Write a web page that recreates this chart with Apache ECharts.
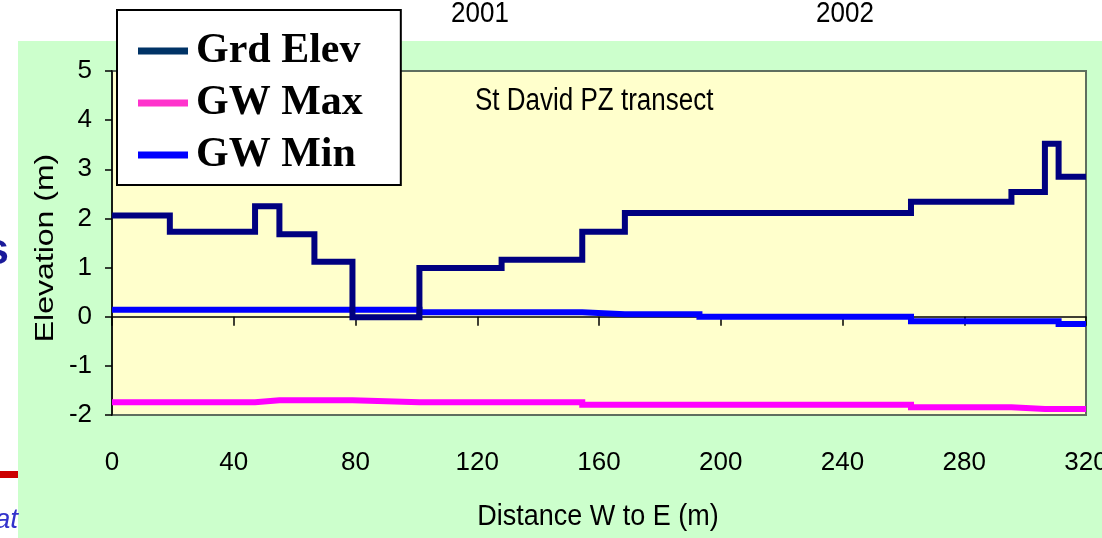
<!DOCTYPE html>
<html>
<head>
<meta charset="utf-8">
<script src="https://cdn.jsdelivr.net/npm/echarts@6/dist/echarts.min.js"></script>
<style>
html,body{margin:0;padding:0;background:#ffffff;}
#chart{width:1102px;height:538px;}
</style>
</head>
<body>
<div id="chart"></div>
<script>
// Data
const distance = [0, 19, 47, 55, 66.5, 79, 101, 128, 154.5, 168.5, 193, 262.5, 295.5, 306.5, 311, 320];
const grdElev  = [2.06, 1.73, 2.25, 1.68, 1.12, -0.01, 0.99, 1.16, 1.73, 2.11, 2.11, 2.34, 2.54, 3.52, 2.85, 2.85];
const gwMax    = [-1.74, -1.74, -1.70, -1.70, -1.70, -1.74, -1.74, -1.74, -1.79, -1.79, -1.79, -1.84, -1.88, -1.88, -1.88, -1.88];
const gwMin    = [0.14, 0.14, 0.14, 0.14, 0.14, 0.14, 0.09, 0.09, 0.05, 0.05, 0.0, -0.09, -0.09, -0.09, -0.15, -0.15];
const seriesNames = ['Grd Elev', 'GW Max', 'GW Min'];
const xTicks = {min: 0, max: 320, interval: 40};
const yTicks = {min: -2, max: 5, interval: 1};
const yearLabels = ['2001', '2002'];
const chartTitle = 'St David PZ transect';
const xName = 'Distance W to E (m)';
const yName = 'Elevation (m)';

const sans = "'Liberation Sans', Arial, sans-serif";

// Each value holds from its distance until the next one (step profile)
function stepPairs(xs, ys){
  const out = [];
  for (let i = 0; i < xs.length; i++) {
    if (i > 0) out.push([xs[i], ys[i - 1]]);
    out.push([xs[i], ys[i]]);
  }
  return out;
}

const chart = echarts.init(document.getElementById('chart'));
chart.setOption({
  animation: false,
  backgroundColor: 'transparent',
  grid: {
    left: 112, right: 16, top: 71, bottom: 123,
    outerBoundsMode: 'none', containLabel: false,
    show: true, backgroundColor: '#FFFFCC',
    borderColor: '#5f6f5f', borderWidth: 2
  },
  legend: {
    left: 117, top: 10, orient: 'vertical',
    backgroundColor: '#ffffff', borderColor: '#000000', borderWidth: 2,
    padding: [20, 38, 9, 21],
    itemGap: 10, itemWidth: 50, itemHeight: 7, icon: 'rect',
    textStyle: {fontFamily: "'Liberation Serif', 'Times New Roman', serif", fontWeight: 'bold', fontSize: 42, color: '#000', lineHeight: 42, padding: [0,0,0,3]},
    data: [
      {name: seriesNames[0], itemStyle: {color: '#003366'}},
      {name: seriesNames[1], itemStyle: {color: '#FF33CC'}},
      {name: seriesNames[2], itemStyle: {color: '#0000FF'}}
    ]
  },
  xAxis: [
    {
      type: 'value', position: 'bottom', min: xTicks.min, max: xTicks.max, interval: xTicks.interval,
      axisLine: {show: false, onZero: false}, axisTick: {show: false}, splitLine: {show: false},
      axisLabel: {color: '#000', fontFamily: sans, fontSize: 26, margin: 35}
    },
    {
      type: 'value', position: 'top', min: xTicks.min, max: xTicks.max, interval: xTicks.interval,
      axisLine: {show: true, onZero: true, lineStyle: {color: '#000', width: 1.5}},
      axisTick: {show: true, inside: true, length: 9, lineStyle: {color: '#000', width: 1.5}},
      axisLabel: {show: false}, splitLine: {show: false}
    }
  ],
  yAxis: {
    type: 'value', min: yTicks.min, max: yTicks.max, interval: yTicks.interval,
    axisLine: {show: true, onZero: false, lineStyle: {color: '#000', width: 1.5}},
    axisTick: {show: true, length: 7, lineStyle: {color: '#000', width: 1.5}},
    splitLine: {show: false},
    axisLabel: {color: '#000', fontFamily: sans, fontSize: 26, margin: 20}
  },
  series: [
    {name: seriesNames[0], type: 'line', data: stepPairs(distance, grdElev), showSymbol: false, symbol: 'none',
     lineStyle: {color: '#000080', width: 6, join: 'miter'}, itemStyle: {color: '#000080'}, z: 4},
    {name: seriesNames[1], type: 'line', data: stepPairs(distance, gwMax), showSymbol: false, symbol: 'none',
     lineStyle: {color: '#FF00FF', width: 6, join: 'miter'}, itemStyle: {color: '#FF00FF'}, z: 3},
    {name: seriesNames[2], type: 'line', data: stepPairs(distance, gwMin), showSymbol: false, symbol: 'none',
     lineStyle: {color: '#0000FF', width: 6, join: 'miter'}, itemStyle: {color: '#0000FF'}, z: 3}
  ],
  graphic: [
    {type: 'rect', z: -5, shape: {x: 18, y: 41, width: 1084, height: 497}, style: {fill: '#CCFFCC'}},
    {type: 'text', z: -5, x: 9, y: 252, style: {text: 's', font: 'bold 44px ' + sans, fill: '#1a1a9a', align: 'right', verticalAlign: 'middle'}},
    {type: 'rect', z: -5, shape: {x: 0, y: 471, width: 18, height: 7}, style: {fill: '#CC0000'}},
    {type: 'text', z: -5, x: 18, y: 520, style: {text: 'at', font: 'italic 28px ' + sans, fill: '#3333CC', align: 'right', verticalAlign: 'middle'}},
    {type: 'text', z: 1, x: 480, y: 14, scaleY: 1.1, style: {text: yearLabels[0], font: '26px ' + sans, fill: '#000', align: 'center', verticalAlign: 'middle'}},
    {type: 'text', z: 1, x: 845, y: 14, scaleY: 1.1, style: {text: yearLabels[1], font: '26px ' + sans, fill: '#000', align: 'center', verticalAlign: 'middle'}},
    {type: 'text', z: 5, x: 475, y: 101, scaleY: 1.2, style: {text: chartTitle, font: '26px ' + sans, fill: '#000', align: 'left', verticalAlign: 'middle'}},
    {type: 'text', z: 5, x: 598, y: 517, scaleY: 1.1, style: {text: xName, font: '27px ' + sans, fill: '#000', align: 'center', verticalAlign: 'middle'}},
    {type: 'text', z: 5, x: 46, y: 248, rotation: Math.PI / 2, scaleX: 1.28, style: {text: yName, font: '25px ' + sans, fill: '#000', align: 'center', verticalAlign: 'middle'}}
  ]
});
</script>
</body>
</html>
